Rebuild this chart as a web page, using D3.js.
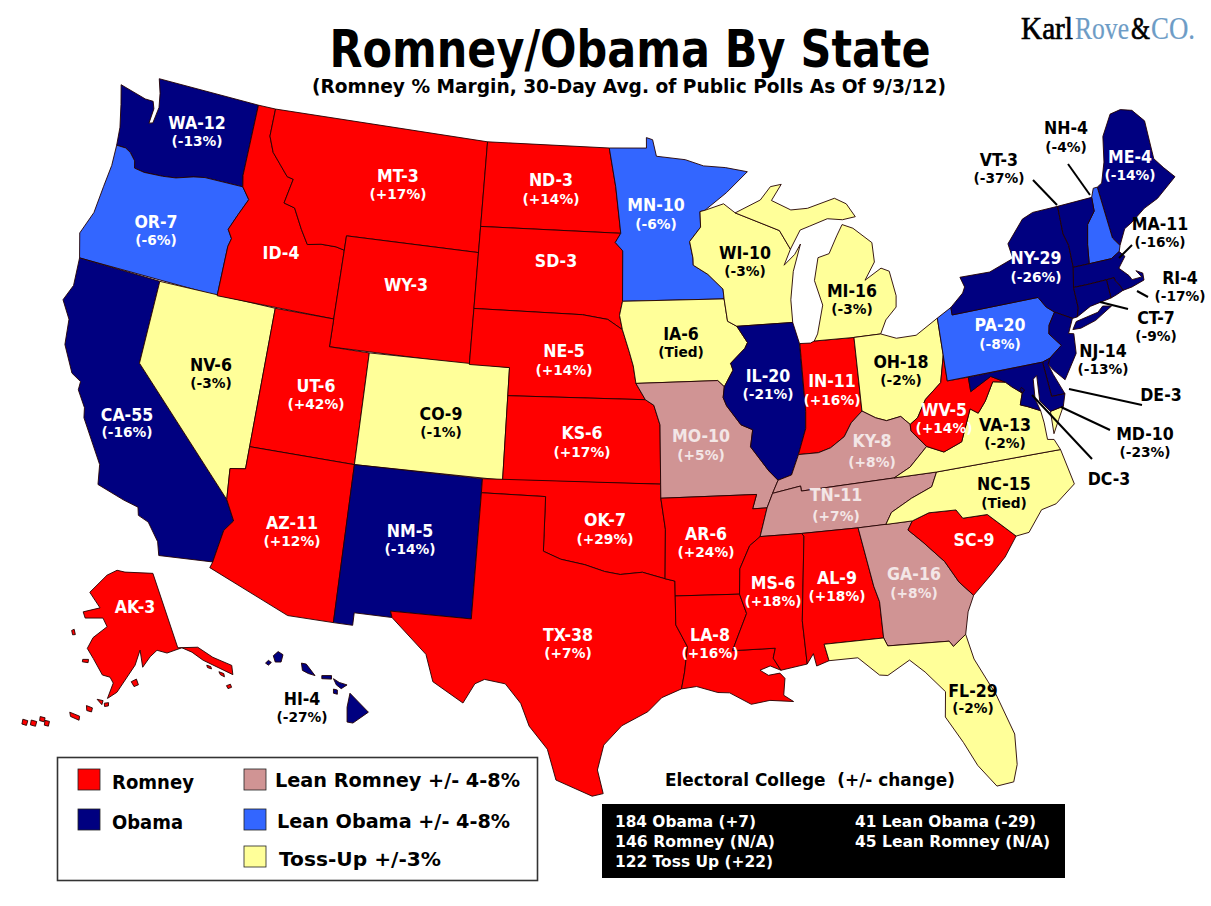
<!DOCTYPE html>
<html>
<head>
<meta charset="utf-8">
<script src="https://cdn.jsdelivr.net/npm/d3@7"></script>
<style>
  html, body { margin: 0; padding: 0; background: #fff; }
  svg { display: block; }
  text { font-family: "DejaVu Sans", Verdana, sans-serif; font-weight: bold; white-space: pre; }
</style>
</head>
<body>
<svg id="chart" width="1211" height="906"></svg>
<script>
var stateCodes = ['WA','OR','CA','NV','ID','MT','WY','UT','CO','AZ','NM','ND','SD','NE','KS','OK','TX','MN','IA','MO','AR','LA','WI','IL','IN','MI','OH','KY','TN','MS','AL','GA','SC','FL','NC','VA','WV','PA','NY','ME','NH','VT','MA','RI','CT','NJ','DE','MD','DC','AK','HI'];
var electoralVotes = [12,7,55,6,4,3,3,6,9,11,5,3,3,5,6,7,38,10,6,10,6,8,10,20,11,16,18,8,11,6,9,16,9,29,15,13,5,20,29,4,4,3,11,4,7,14,3,10,3,3,4];
var margins = ['-13%','-6%','-16%','-3%','','+17%','','+42%','-1%','+12%','-14%','+14%','','+14%','+17%','+29%','+7%','-6%','Tied','+5%','+24%','+16%','-3%','-21%','+16%','-3%','-2%','+8%','+7%','+18%','+18%','+8%','','-2%','Tied','-2%','+14%','-8%','-26%','-14%','-4%','-37%','-16%','-17%','-9%','-13%','','-23%','','','-27%'];
var ratings = ['O','L','O','T','R','R','R','R','T','R','O','R','R','R','R','R','R','L','T','P','R','R','T','O','R','T','T','P','P','R','R','P','R','T','T','T','R','L','O','O','L','O','O','O','O','O','O','O','O','R','O'];

var ratingKeys = ['R','O','P','L','T'];
var ratingNames = ['Romney','Obama','Lean Romney +/- 4-8%','Lean Obama +/- 4-8%','Toss-Up +/-3%'];
var ratingColors = ['#ff0000','#000080','#d09494','#3366ff','#ffff99'];

var summaryLeft = ['184 Obama (+7)','146 Romney (N/A)','122 Toss Up (+22)'];
var summaryRight = ['41 Lean Obama (-29)','45 Lean Romney (N/A)'];

// state outlines as lon/lat rings
var outlines = {
  WA: [[[-117.03,49],[-122.76,49],[-122.5,48.5],[-122.35,48],[-122.45,47.4],[-122.65,47.35],[-122.6,47.9],[-122.75,48.15],[-123.2,48.15],[-124.7,48.38],[-124.4,47.7],[-124.1,46.9],[-124,46.25],[-123.5,46.25],[-123.2,46.15],[-122.85,45.9],[-122.75,45.65],[-122.2,45.6],[-121.2,45.65],[-120.5,45.72],[-119.6,45.92],[-119,46],[-116.92,46],[-117.04,46.4]]],
  OR: [[[-124,46.25],[-123.5,46.25],[-123.2,46.15],[-122.85,45.9],[-122.75,45.65],[-122.2,45.6],[-121.2,45.65],[-120.5,45.72],[-119.6,45.92],[-119,46],[-116.92,46],[-116.47,45.6],[-116.85,45],[-117.2,44.4],[-116.93,44.1],[-117.03,43.8],[-117.03,42],[-124.2,42],[-124.55,42.85],[-124.15,43.7],[-124.05,44.7],[-123.95,45.5]]],
  CA: [[[-124.2,42],[-120,42],[-120,39],[-114.63,35],[-114.14,34.3],[-114.5,33.9],[-114.72,32.72],[-117.12,32.53],[-117.3,33],[-117.9,33.6],[-118.4,33.75],[-118.5,34.03],[-119.2,34.15],[-120.5,34.45],[-120.65,35.15],[-121.9,36.6],[-122,36.95],[-122.5,37.5],[-122.5,37.8],[-123,38],[-123.7,38.9],[-123.85,39.8],[-124.4,40.4],[-124.1,41]]],
  NV: [[[-120,42],[-114.04,42],[-114.04,36.2],[-114.75,36.1],[-114.63,35],[-120,39]]],
  ID: [[[-117.03,49],[-116.05,49],[-116.05,48],[-115.7,47.45],[-114.7,46.7],[-114.35,46.65],[-114.6,45.75],[-114,45.65],[-113.45,44.95],[-113,44.45],[-112.3,44.55],[-111.5,44.55],[-111.05,44.48],[-111.05,42],[-117.03,42],[-117.03,43.8],[-116.93,44.1],[-117.2,44.4],[-116.85,45],[-116.47,45.6],[-116.92,46],[-117.04,46.4]]],
  MT: [[[-116.05,49],[-104.05,49],[-104.05,45],[-111.05,45],[-111.05,44.48],[-111.5,44.55],[-112.3,44.55],[-113,44.45],[-113.45,44.95],[-114,45.65],[-114.6,45.75],[-114.35,46.65],[-114.7,46.7],[-115.7,47.45],[-116.05,48]]],
  WY: [[[-111.05,45],[-104.05,45],[-104.05,41],[-111.05,41]]],
  UT: [[[-114.04,42],[-111.05,42],[-111.05,41],[-109.05,41],[-109.05,37],[-114.04,37]]],
  CO: [[[-109.05,41],[-102.05,41],[-102.05,37],[-109.05,37]]],
  AZ: [[[-114.04,37],[-109.05,37],[-109.05,31.33],[-111.07,31.33],[-114.8,32.5],[-114.72,32.72],[-114.5,33.9],[-114.14,34.3],[-114.63,35],[-114.75,36.1],[-114.04,36.2]]],
  NM: [[[-109.05,37],[-103,37],[-103.05,32],[-106.62,32],[-106.53,31.78],[-108.2,31.78],[-108.2,31.33],[-109.05,31.33]]],
  ND: [[[-104.05,49],[-97.23,49],[-96.85,47.6],[-96.56,45.93],[-104.05,45.94]]],
  SD: [[[-104.05,45.94],[-96.56,45.93],[-96.85,45.6],[-96.45,45.3],[-96.45,43.5],[-96.6,43],[-96.45,42.49],[-97.2,42.85],[-98.5,43],[-104.05,43]]],
  NE: [[[-104.05,43],[-98.5,43],[-97.2,42.85],[-96.45,42.49],[-96.1,41.7],[-95.9,41.2],[-95.77,40.58],[-95.31,40],[-102.05,40],[-102.05,41],[-104.05,41]]],
  KS: [[[-102.05,40],[-95.31,40],[-94.9,39.8],[-94.61,39.1],[-94.62,37],[-102.05,37]]],
  OK: [[[-103,37],[-94.62,37],[-94.62,36.5],[-94.43,35.4],[-94.48,33.64],[-95.5,33.88],[-96.5,33.8],[-97.2,33.9],[-98.1,34.13],[-99.2,34.3],[-100,34.56],[-100,36.5],[-103,36.5]]],
  TX: [[[-106.62,32],[-103.05,32],[-103,36.5],[-100,36.5],[-100,34.56],[-99.2,34.3],[-98.1,34.13],[-97.2,33.9],[-96.5,33.8],[-95.5,33.88],[-94.48,33.64],[-94.04,33.55],[-94.04,31.99],[-93.55,31.2],[-93.7,30.3],[-93.85,29.7],[-94.7,29.4],[-95.3,28.9],[-96.4,28.4],[-97.15,27.7],[-97.4,26.8],[-97.15,25.95],[-97.6,25.85],[-99.1,26.4],[-99.5,27.5],[-100.3,28.3],[-100.7,29.1],[-101.4,29.77],[-102.3,29.88],[-102.7,29.7],[-103.15,28.98],[-104.5,29.65],[-104.9,30.6],[-106.53,31.78]]],
  MN: [[[-97.23,49],[-95.15,49],[-95.15,49.38],[-94.8,49.3],[-94.6,48.7],[-93,48.55],[-92,48.3],[-90.8,48.2],[-89.6,48],[-90.8,47.3],[-92.02,46.7],[-92.29,46.66],[-92.29,46.1],[-92.9,45.6],[-92.75,45],[-92.75,44.75],[-92,44.4],[-91.25,43.85],[-91.22,43.5],[-96.45,43.5],[-96.45,45.3],[-96.85,45.6],[-96.56,45.93],[-96.85,47.6]]],
  IA: [[[-96.45,43.5],[-91.22,43.5],[-91.1,42.7],[-90.64,42.5],[-90.15,41.9],[-90.3,41.7],[-91.05,41.2],[-90.95,40.95],[-91.42,40.38],[-91.73,40.61],[-95.77,40.58],[-95.9,41.2],[-96.1,41.7],[-96.45,42.49],[-96.6,43]]],
  MO: [[[-95.77,40.58],[-91.73,40.61],[-91.42,40.38],[-91.5,40],[-91.35,39.7],[-90.7,39],[-90.15,38.8],[-90.3,38.2],[-89.5,37.3],[-89.1,36.95],[-89.4,36.5],[-89.7,36],[-90.37,36],[-90.15,36.5],[-94.62,36.5],[-94.62,37],[-94.61,39.1],[-94.9,39.8],[-95.31,40]]],
  AR: [[[-94.62,36.5],[-90.15,36.5],[-90.37,36],[-89.7,36],[-90.1,35],[-90.6,34.7],[-91.1,33.9],[-91.17,33],[-94.04,33.02],[-94.04,33.55],[-94.48,33.64],[-94.43,35.4]]],
  LA: [[[-94.04,33.02],[-91.17,33],[-90.9,32.3],[-91.6,31],[-89.73,31],[-89.85,30.65],[-89.55,30.2],[-90,30.38],[-90.45,30.25],[-90.1,30.05],[-89.6,30.1],[-89.4,29.9],[-89.5,29.3],[-89.1,29.05],[-90.1,29.15],[-90.9,29.05],[-91.8,29.5],[-92.3,29.53],[-93.2,29.77],[-93.85,29.7],[-93.7,30.3],[-93.55,31.2],[-94.04,31.99]]],
  WI: [[[-92.29,46.66],[-92.02,46.7],[-91,46.9],[-90.4,46.55],[-89,46.1],[-88.1,45.8],[-87.6,45.1],[-88,44.55],[-87.4,44.9],[-87.05,45.25],[-87.55,44.3],[-87.8,43.3],[-87.8,42.49],[-90.64,42.5],[-91.1,42.7],[-91.22,43.5],[-91.25,43.85],[-92,44.4],[-92.75,44.75],[-92.75,45],[-92.9,45.6],[-92.29,46.1]]],
  IL: [[[-90.64,42.5],[-87.8,42.49],[-87.55,41.72],[-87.53,39.3],[-87.6,38.7],[-88.05,37.8],[-88.45,37.1],[-89.1,36.95],[-89.5,37.3],[-90.3,38.2],[-90.15,38.8],[-90.7,39],[-91.35,39.7],[-91.5,40],[-91.42,40.38],[-90.95,40.95],[-91.05,41.2],[-90.3,41.7],[-90.15,41.9]]],
  IN: [[[-87.53,41.72],[-87,41.7],[-86.8,41.76],[-84.8,41.73],[-84.82,39.1],[-85.4,38.73],[-85.8,38.27],[-86.5,37.93],[-87.1,37.8],[-88.05,37.8],[-87.6,38.7],[-87.53,39.3]]],
  MI: [[[-86.8,41.76],[-84.8,41.73],[-83.45,41.73],[-83.1,42.2],[-82.5,42.6],[-82.42,43],[-82.6,43.9],[-83,44.05],[-83.9,43.7],[-83.3,44.3],[-83.3,45],[-84.2,45.6],[-84.75,45.78],[-85.1,45.4],[-85.6,44.8],[-86.2,44.7],[-86.5,43.9],[-86.2,43],[-86.6,42]],
       [[-90.4,46.55],[-89,46.95],[-88.4,47.4],[-87.8,47.45],[-88.4,46.9],[-87.4,46.5],[-86.5,46.5],[-85,46.75],[-84.4,46.5],[-84,46],[-84.7,45.95],[-85.5,46.05],[-86.5,45.85],[-87,45.75],[-87.6,45.1],[-88.1,45.8],[-89,46.1]]],
  OH: [[[-84.8,41.73],[-83.45,41.73],[-82.7,41.5],[-81.7,41.5],[-80.52,41.98],[-80.52,40.64],[-80.85,39.7],[-81.7,39.2],[-82.2,38.6],[-82.6,38.4],[-83,38.73],[-83.7,38.65],[-84.2,38.8],[-84.82,39.1]]],
  KY: [[[-89.4,36.5],[-88.07,36.68],[-88.05,36.5],[-83.68,36.6],[-82.88,36.9],[-81.97,37.54],[-82.6,38.17],[-82.6,38.4],[-83,38.73],[-83.7,38.65],[-84.2,38.8],[-84.82,39.1],[-85.4,38.73],[-85.8,38.27],[-86.5,37.93],[-87.1,37.8],[-88.05,37.8],[-88.45,37.1],[-89.1,36.95]]],
  TN: [[[-90.1,35],[-88.2,35],[-85.6,35],[-84.32,35],[-84,35.4],[-83,35.8],[-82,36.1],[-81.68,36.59],[-83.68,36.6],[-88.05,36.5],[-88.07,36.68],[-89.4,36.5],[-89.7,36]]],
  MS: [[[-90.1,35],[-88.2,35],[-88.1,34.9],[-88.47,31.9],[-88.4,30.35],[-89.55,30.2],[-89.85,30.65],[-89.73,31],[-91.6,31],[-90.9,32.3],[-91.17,33],[-91.1,33.9],[-90.6,34.7]]],
  AL: [[[-88.2,35],[-85.6,35],[-85.18,32.87],[-85,32.3],[-85,31],[-87.6,31],[-87.45,30.4],[-88,30.25],[-88.1,30.7],[-88.4,30.35],[-88.47,31.9],[-88.1,34.9]]],
  GA: [[[-85.6,35],[-83.1,35],[-83.35,34.7],[-82.75,34.2],[-81.9,33.4],[-81.4,32.6],[-80.85,32.05],[-81.2,31.5],[-81.45,30.72],[-82.05,30.36],[-82.2,30.57],[-84.86,30.7],[-85,31],[-85,32.3],[-85.18,32.87]]],
  SC: [[[-83.1,35],[-82.3,35.2],[-81.05,35.15],[-80.8,34.82],[-79.67,34.8],[-78.55,33.86],[-79.2,33.2],[-79.9,32.7],[-80.85,32.05],[-81.4,32.6],[-81.9,33.4],[-82.75,34.2],[-83.35,34.7]]],
  FL: [[[-87.6,31],[-85,31],[-84.86,30.7],[-82.2,30.57],[-82.05,30.36],[-81.45,30.72],[-81.25,29.8],[-80.55,28.4],[-80.05,26.9],[-80.15,25.8],[-80.4,25.2],[-81.1,25.15],[-81.75,26],[-82.2,26.9],[-82.8,27.9],[-82.65,28.8],[-83.4,29.6],[-84,30.1],[-85,29.65],[-85.35,29.7],[-86.2,30.4],[-87.45,30.4]]],
  NC: [[[-84.32,35],[-83.1,35],[-82.3,35.2],[-81.05,35.15],[-80.8,34.82],[-79.67,34.8],[-78.55,33.86],[-77.95,33.9],[-77.2,34.6],[-76.5,34.7],[-75.5,35.25],[-75.8,36.55],[-81.68,36.59],[-82,36.1],[-83,35.8],[-84,35.4]]],
  VA: [[[-83.68,36.6],[-81.68,36.59],[-75.8,36.55],[-76,36.95],[-76.3,37],[-76.3,37.6],[-76.35,38.05],[-76.95,38.3],[-77.25,38.4],[-77.05,38.8],[-77.5,39.1],[-77.75,39.3],[-78.35,39.4],[-78.87,38.77],[-79.3,38.4],[-79.65,38.6],[-80.3,37.5],[-81.2,37.25],[-81.97,37.54],[-82.88,36.9]],
       [[-75.25,38.03],[-75.9,37.95],[-75.95,37.15],[-75.6,37.6]]],
  WV: [[[-80.52,40.64],[-80.52,39.72],[-79.48,39.72],[-79.48,39.2],[-78.4,39.6],[-77.75,39.3],[-78.35,39.4],[-78.87,38.77],[-79.3,38.4],[-79.65,38.6],[-80.3,37.5],[-81.2,37.25],[-81.97,37.54],[-82.6,38.17],[-82.6,38.4],[-82.2,38.6],[-81.7,39.2],[-80.85,39.7]]],
  PA: [[[-80.52,41.98],[-79.76,42.27],[-79.76,42],[-75.35,42],[-75.05,41.6],[-74.7,41.36],[-75.1,40.95],[-75.2,40.65],[-74.72,40.15],[-75.4,39.8],[-75.79,39.72],[-80.52,39.72]]],
  NY: [[[-79.76,42.27],[-79.05,42.7],[-78.9,42.9],[-79.05,43.27],[-77.5,43.25],[-76.2,43.55],[-76.3,44.1],[-75.3,44.85],[-74.7,45],[-73.35,45],[-73.4,44],[-73.25,43.55],[-73.28,42.75],[-73.5,42.05],[-73.5,41.3],[-73.65,41],[-73.9,40.99],[-74.7,41.36],[-75.05,41.6],[-75.35,42],[-79.76,42]],
       [[-74,40.6],[-73.75,40.85],[-72.6,40.98],[-72.3,41.15],[-71.87,41.07],[-72.8,40.72],[-73.6,40.58]]],
  ME: [[[-71.08,45.3],[-70.8,45.4],[-70.4,46.1],[-70.1,47],[-69.4,47.7],[-68.8,47.75],[-68.2,47.6],[-67.7,47.1],[-67.8,45.7],[-67.45,45.3],[-67,44.85],[-68.2,44.3],[-69,44.1],[-69.8,43.75],[-70.25,43.6],[-70.7,43.07],[-70.98,43.4]]],
  NH: [[[-71.5,45],[-71.3,45.3],[-71.08,45.3],[-70.98,43.4],[-70.7,43.07],[-70.82,42.87],[-71.3,42.7],[-72.45,42.73],[-72.3,43.4],[-72.05,44.1],[-71.55,44.5]]],
  VT: [[[-73.35,45],[-71.5,45],[-71.55,44.5],[-72.05,44.1],[-72.3,43.4],[-72.45,42.73],[-73.28,42.75],[-73.25,43.55],[-73.4,44]]],
  MA: [[[-73.5,42.05],[-73.28,42.75],[-72.45,42.73],[-71.3,42.7],[-70.82,42.87],[-70.6,42.65],[-71.05,42.3],[-70.65,41.95],[-70.55,41.78],[-70.05,41.78],[-70.25,42.05],[-69.95,41.9],[-69.98,41.65],[-70.65,41.53],[-71.13,41.5],[-71.2,41.67],[-71.38,41.9],[-71.4,42.02],[-71.8,42.02],[-72.8,42.03]]],
  RI: [[[-71.8,42.02],[-71.4,42.02],[-71.38,41.9],[-71.2,41.67],[-71.13,41.5],[-71.45,41.42],[-71.8,41.35]]],
  CT: [[[-73.5,42.05],[-72.8,42.03],[-71.8,42.02],[-71.8,41.35],[-72.9,41.25],[-73.65,41],[-73.5,41.3]]],
  NJ: [[[-74.7,41.36],[-73.9,40.99],[-74.25,40.5],[-74,40.45],[-74.1,39.75],[-74.9,38.93],[-75.35,39.35],[-75.55,39.6],[-75.4,39.8],[-74.72,40.15],[-75.2,40.65],[-75.1,40.95]]],
  DE: [[[-75.79,39.72],[-75.4,39.8],[-75.55,39.6],[-75.4,39.2],[-75.05,38.45],[-75.7,38.46]]],
  MD: [[[-79.48,39.72],[-75.79,39.72],[-75.7,38.46],[-75.05,38.45],[-75.25,38.03],[-75.9,37.95],[-76.3,38.4],[-76.2,39.3],[-76.4,39.2],[-76.5,38.5],[-76.35,38.05],[-76.95,38.3],[-77.25,38.4],[-77.05,38.8],[-77.5,39.1],[-77.75,39.3],[-78.4,39.6],[-79.48,39.2]]],
  DC: [[[-77.12,38.93],[-77.04,39],[-76.91,38.89],[-77.04,38.79]]],
  AK: [[[-157.3,71.2],[-154.4,71],[-144.3,70.6],[-140.8,61.1],[-135.9,60.6],[-133.1,58.9],[-129.6,57.2],[-130.1,56.1],[-135.5,58.9],[-137.6,60.2],[-139.8,61],[-143.7,60.7],[-146.1,61.2],[-148,60.5],[-150,59.3],[-150.4,61.4],[-151.8,59.6],[-156,56.3],[-158,55.5],[-156.9,57.4],[-157.7,58.1],[-159.5,58.3],[-162.1,60.2],[-163.9,61.3],[-162.8,62.7],[-159.3,64.2],[-160.7,65.2],[-165.8,64.9],[-166.7,65.6],[-161.9,66.4],[-165.8,68.1],[-160.8,70.5]],
       [[-168.8,63.1],[-168.2,63.3],[-167.6,62.7],[-168.3,62.6]],
       [[-164.6,59.9],[-163.2,60],[-163.2,59.6],[-164.6,59.6]],
       [[-152.8,57.6],[-151.6,57.9],[-151.2,57.2],[-152.2,57]],
       [[-135,58.2],[-134.2,57.9],[-134.2,57.6],[-135,57.9]],
       [[-132.8,57],[-131.9,56.6],[-132,56.2],[-132.7,56.6]],
       [[-132.2,55.1],[-131.3,55.1],[-131.3,54.7],[-132.1,54.7]],
       [[-158.6,54.9],[-157.7,55],[-157.7,54.6],[-158.5,54.5]],
       [[-160.2,55.3],[-158.9,55.2],[-159.1,54.7]],
       [[-162.3,54.4],[-161,54.2],[-161.1,53.7],[-162.1,53.8]],
       [[-165.5,53.3],[-163.4,53],[-163.4,52.5],[-165.2,52.8]],
       [[-170,51.7],[-169.1,51.7],[-169.1,51.1],[-169.9,51.1]],
       [[-171.1,52],[-170.1,52],[-170.1,51.5],[-171,51.5]],
       [[-172.6,51.3],[-171.5,51.3],[-171.5,50.7],[-172.5,50.7]],
       [[-174.2,51.1],[-173.2,51.1],[-173.2,50.5],[-174.1,50.5]]],
  HI: [[[-155.9,19.52],[-155.75,20.2],[-154.8,19.28],[-155.6,18.75],[-155.9,18.8]],
       [[-156.6,20.9],[-156.3,20.72],[-155.9,20.6],[-156.2,20.42],[-156.45,20.6]],
       [[-157.2,21.05],[-156.7,21.05],[-156.7,20.88],[-157.2,20.9]],
       [[-156.6,20.4],[-156.4,20.35],[-156.4,20.15],[-156.6,20.2]],
       [[-158.25,21.65],[-158,21.6],[-157.55,21.05],[-157.9,21.15],[-158.2,21.3]],
       [[-159.7,22],[-159.45,22.2],[-159.2,22.05],[-159.3,21.7],[-159.6,21.7]],
       [[-160.1,21.65],[-159.95,21.78],[-159.8,21.68],[-159.95,21.55]]]
};

// [x, line 1 y, line 2 y]
var labelPos = {
  WA:[197,123,141],OR:[156,222,240],CA:[127,415,432],NV:[211,365,383],ID:[281,253],MT:[398,176,194],WY:[406,285],UT:[316,386,404],CO:[441,414,432],AZ:[292,523,541],NM:[410,531,549],
  ND:[551,180,199],SD:[556,261],NE:[564,351,370],KS:[582,433,452],OK:[605,520,539],TX:[568,635,653],MN:[656,205,224],IA:[681,334,352],MO:[701,436,455],AR:[706,534,552],LA:[710,635,653],
  WI:[745,253,271],IL:[768,376,394],IN:[832,381,400],MI:[852,291,309],OH:[901,362,380],KY:[872,441,462],TN:[836,495,516],MS:[773,583,601],AL:[837,578,596],GA:[914,574,593],SC:[974,540],FL:[973,691,708],
  NC:[1004,484,503],VA:[1005,425,443],WV:[944,410,428],PA:[1000,325,344],NY:[1036,258,277],ME:[1130,157,175],NH:[1066,128,147],VT:[999,160,178],MA:[1160,224,242],RI:[1180,278,296],CT:[1156,318,336],
  NJ:[1103,351,369],DE:[1161,395],MD:[1145,434,452],DC:[1109,479],AK:[135,607],HI:[302,699,717]
};
var outsideLabels = ['NH','VT','MA','RI','CT','NJ','DE','MD','DC','HI'];

var leaders = [
  [1033,180,1057,205],[1068,164,1090,195],[1132,245,1119,258],[1137,291,1148,297],
  [1100,302,1128,309],[1069,389,1142,405],[1061,407,1110,430],[1032,395,1092,459]
];

var svg = d3.select('#chart');
var color = d3.scaleOrdinal().domain(ratingKeys).range(ratingColors);

// continental states: albers, then stretched onto the page
var albers = d3.geoConicEqualArea().parallels([29.5, 45.5]).rotate([96, 0]).center([0, 37.5]).scale(1).translate([0, 0]);
var xScale = d3.scaleLinear()
  .domain([albers([-124.4, 40.4])[0], albers([-67, 44.85])[0]])
  .range([63, 1175]);
var yScale = d3.scaleLinear()
  .domain([albers([-97.23, 49])[1], albers([-97.15, 25.9])[1]])
  .range([148, 795]);

function planar(project) {
  return d3.geoPath(d3.geoTransform({
    point: function (lon, lat) {
      var p = project([lon, lat]);
      this.stream.point(p[0], p[1]);
    }
  }));
}

var mainPath = planar(function (c) {
  var p = albers(c);
  return [xScale(p[0]), yScale(p[1])];
});
var alaska = d3.geoConicEqualArea().parallels([55, 65]).rotate([154, 0]).center([0, 60]).scale(470).translate([126, 662]);
var hawaii = d3.geoMercator().center([-157.5, 20.5]).scale(1112).translate([316, 687]);
var akPath = planar(alaska);
var hiPath = planar(hawaii);

function pathFor(code) {
  if (code === 'AK') return akPath;
  if (code === 'HI') return hiPath;
  return mainPath;
}

// fits a text to the width measured in the reference
function fit(sel, width) {
  return sel.attr('textLength', width).attr('lengthAdjust', 'spacingAndGlyphs');
}

// same as fit, but as a share of the natural width
function squeeze(sel, factor) {
  return fit(sel, sel.node().getComputedTextLength() * factor);
}

var features = stateCodes.map(function (code, i) {
  return {
    type: 'Feature',
    id: code,
    properties: { rating: ratings[i] },
    geometry: {
      type: 'MultiPolygon',
      coordinates: outlines[code].map(function (ring) { return [ring.concat([ring[0]])]; })
    }
  };
});

svg.append('g').selectAll('path')
  .data(features)
  .enter().append('path')
  .attr('d', function (d) { return pathFor(d.id)(d); })
  .attr('fill', function (d) { return color(d.properties.rating); })
  .attr('stroke', '#200')
  .attr('stroke-width', 0.9)
  .attr('stroke-linejoin', 'round');

svg.append('g').selectAll('line')
  .data(leaders)
  .enter().append('line')
  .attr('x1', function (d) { return d[0]; })
  .attr('y1', function (d) { return d[1]; })
  .attr('x2', function (d) { return d[2]; })
  .attr('y2', function (d) { return d[3]; })
  .attr('stroke', '#000')
  .attr('stroke-width', 2);

// state labels
var labelGroup = svg.append('g').attr('text-anchor', 'middle');
stateCodes.forEach(function (code, i) {
  var pos = labelPos[code];
  var dark = ratings[i] === 'T' || outsideLabels.indexOf(code) >= 0;
  var fill = dark ? '#000' : (ratings[i] === 'P' ? '#f3e6e6' : '#fff');
  squeeze(labelGroup.append('text')
    .attr('x', pos[0]).attr('y', pos[1]).attr('dy', '0.36em')
    .attr('font-size', 17).attr('fill', fill)
    .text(code + '-' + electoralVotes[i]), 0.93);
  if (margins[i]) {
    squeeze(labelGroup.append('text')
      .attr('x', pos[0]).attr('y', pos[2]).attr('dy', '0.36em')
      .attr('font-size', 14).attr('fill', fill)
      .text(margins[i] === 'Tied' ? '(Tied)' : '(' + margins[i] + ')'), 0.98);
  }
});

// title
fit(svg.append('text').attr('x', 630).attr('y', 67).attr('text-anchor', 'middle')
  .attr('font-size', 51).text('Romney/Obama By State'), 601);
fit(svg.append('text').attr('x', 629).attr('y', 93).attr('text-anchor', 'middle')
  .attr('font-size', 20).text('(Romney % Margin, 30-Day Avg. of Public Polls As Of 9/3/12)'), 634);

// logo, one word at a time
var logoParts = ['Karl', 'Rove', '&', 'CO.'];
var logoColors = ['#000', '#6d9cc6', '#000', '#6d9cc6'];
var logoX = [1021, 1075, 1131, 1151];
var logoWidths = [52, 54, 19, 44];
logoParts.forEach(function (part, i) {
  fit(svg.append('text').attr('x', logoX[i]).attr('y', 39)
    .attr('font-size', 32).attr('fill', logoColors[i])
    .attr('stroke', logoColors[i]).attr('stroke-width', i % 2 ? 0.2 : 0.7)
    .style('font-family', '"Liberation Serif", serif').style('font-weight', 'normal')
    .text(part), logoWidths[i]);
});

// legend
svg.append('rect').attr('x', 57.5).attr('y', 757.5).attr('width', 480).attr('height', 123)
  .attr('fill', '#fff').attr('stroke', '#333').attr('stroke-width', 1.6);

var swatchX = [78, 78, 244, 244, 244];
var swatchY = [769, 809, 769, 809, 846];
var legendTextX = [112, 112, 275, 277, 279];
var legendTextY = [789, 829, 787, 828, 866];
var legendWidths = [82, 71, 245, 233, 162];
ratingNames.forEach(function (name, i) {
  svg.append('rect').attr('x', swatchX[i]).attr('y', swatchY[i]).attr('width', 22).attr('height', 21)
    .attr('fill', ratingColors[i]).attr('stroke', '#222').attr('stroke-width', 0.8);
  fit(svg.append('text').attr('x', legendTextX[i]).attr('y', legendTextY[i])
    .attr('font-size', 19.5).text(name), legendWidths[i]);
});

// electoral college box
fit(svg.append('text').attr('x', 665).attr('y', 786).attr('font-size', 17.5).text('Electoral College  (+/- change)'), 290);
svg.append('rect').attr('x', 602).attr('y', 804).attr('width', 463).attr('height', 74).attr('fill', '#000');
var leftWidths = [141, 160, 158];
var rightWidths = [181, 195];
summaryLeft.forEach(function (t, i) {
  fit(svg.append('text').attr('x', 615).attr('y', 827 + i * 20).attr('font-size', 16).attr('fill', '#fff').text(t), leftWidths[i]);
});
summaryRight.forEach(function (t, i) {
  fit(svg.append('text').attr('x', 855).attr('y', 827 + i * 20).attr('font-size', 16).attr('fill', '#fff').text(t), rightWidths[i]);
});
</script>
</body>
</html>
